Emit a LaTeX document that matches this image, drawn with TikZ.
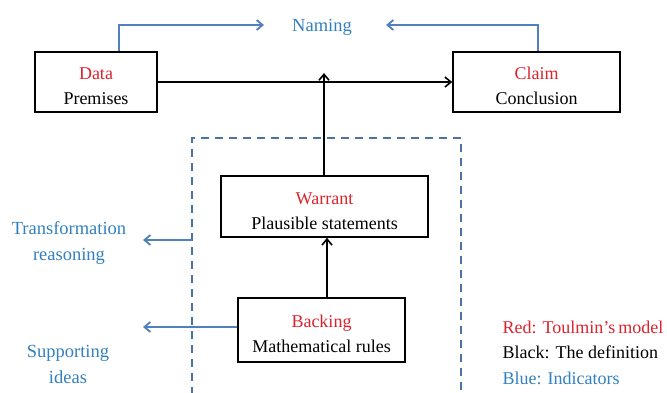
\documentclass[tikz,border=0pt]{standalone}
\usepackage{fontspec}
\setmainfont{Liberation Serif}
\usetikzlibrary{arrows.meta}
\definecolor{tred}{RGB}{220,35,45}
\definecolor{tblue}{RGB}{50,128,190}
\definecolor{ablue}{RGB}{80,128,190}
\definecolor{dblue}{RGB}{75,115,165}
\newcommand{\upstrut}{\rule{0pt}{20pt}}
\begin{document}
\begin{tikzpicture}[x=1pt,y=-1pt,
  box/.style={draw=black,line width=1.6pt,fill=white,align=center,inner sep=0pt,font=\fontsize{18}{25}\selectfont},
  blk/.style={line width=1.6pt,-{Straight Barb[length=6pt,width=10pt,line width=1.6pt]}},
  bar/.style={draw=ablue,line width=1.8pt,-{Straight Barb[length=6pt,width=10pt,line width=1.8pt]}},
  lbl/.style={font=\fontsize{18.5}{26}\selectfont,text=tblue,align=center},
  txt/.style={font=\fontsize{18}{20}\selectfont}]
\useasboundingbox (0,0) rectangle (667,392);
% dashed box
\draw[dblue,line width=1.5pt,dash pattern=on 8pt off 6pt] (192,395) -- (192,138) -- (461,138) -- (461,395);
% boxes
\node[box,minimum width=122pt,minimum height=60pt] (data) at (96,82)
  {\upstrut\textcolor{tred}{Data}\\Premises};
\node[box,minimum width=167pt,minimum height=60pt] (claim) at (536.5,82)
  {\upstrut\textcolor{tred}{Claim}\\Conclusion};
\node[box,minimum width=207pt,minimum height=61pt] (warrant) at (324.5,206.5)
  {\rule{0pt}{22pt}\textcolor{tred}{Warrant}\\Plausible statements};
\node[box,minimum width=167pt,minimum height=64pt] (backing) at (321.5,330)
  {\upstrut\textcolor{tred}{Backing}\\Mathematical rules};
% naming
\node[lbl] (naming) at (322,27) {Naming};
\coordinate (nl) at (264,25);
\coordinate (nr) at (386,25);
\draw[bar] (data.north -| 119,0) |- (nl);
\draw[bar] (claim.north -| 538,0) |- (nr);
% main arrows
\draw[blk] (data.east) -- (claim.west);
\coordinate (mid) at (324,77);
\draw[blk] (warrant.north -| 324,0) -- ([yshift=4pt]mid);
\draw[blk] (backing.north -| 327,0) -- (warrant.south -| 327,0);
% side indicators
\node[lbl] (trans) at (69,243) {Transformation\\reasoning};
\node[lbl] (supp) at (68,364) {Supporting\\ideas};
\coordinate (tl) at (192,240);
\coordinate (ta) at (143,240);
\draw[bar] (tl) -- (ta);
\coordinate (sa) at (143,327);
\draw[bar] (backing.west |- 0,327) -- (sa);
% legend
\node[txt,anchor=west,text=tred] (l1) at (499,327) {Red: Toulmin's\,model};
\node[txt,anchor=west] (l2) at (499,352) {Black: The definition};
\node[txt,anchor=west,text=tblue] (l3) at (499,378) {Blue: Indicators};
\end{tikzpicture}
\end{document}
